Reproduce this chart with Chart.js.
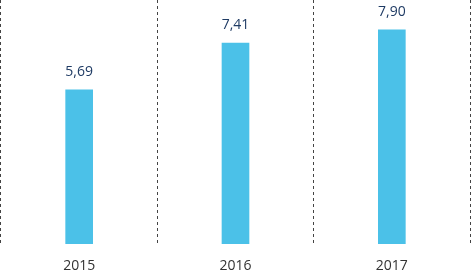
<!DOCTYPE html>
<html>
<head>
<meta charset="utf-8">
<script src="https://cdn.jsdelivr.net/npm/chart.js@4.4.1/dist/chart.umd.min.js"></script>
<style>
html,body{margin:0;padding:0;background:#fff;}
#wrap{width:471px;height:272px;}
</style>
</head>
<body>
<div id="wrap"><canvas id="c" width="471" height="272"></canvas></div>
<script>
const categories = ["2015", "2016", "2017"];
const values = [5.69, 7.41, 7.90];
const valueLabels = ["5,69", "7,41", "7,90"];

const labelPlugin = {
  id: 'valueLabels',
  afterDatasetsDraw(chart) {
    const ctx = chart.ctx;
    const meta = chart.getDatasetMeta(0);
    ctx.save();
    ctx.font = '14px "Open Sans"';
    ctx.fillStyle = '#1F3B64';
    ctx.textAlign = 'center';
    ctx.textBaseline = 'alphabetic';
    meta.data.forEach((bar, i) => {
      ctx.fillText(valueLabels[i], bar.x, bar.y - 14);
    });
    ctx.restore();
  }
};

new Chart(document.getElementById('c'), {
  type: 'bar',
  data: {
    labels: categories,
    datasets: [{
      data: values,
      backgroundColor: '#4BC1E8',
      barThickness: 27
    }]
  },
  options: {
    responsive: false,
    animation: false,
    layout: { padding: { left: 1, right: 1, top: 0, bottom: 0 } },
    plugins: { legend: { display: false }, tooltip: { enabled: false } },
    scales: {
      y: { display: false, min: 0, max: 9 },
      x: {
        afterFit(scale) { scale.height = 28; },
        grid: { offset: true, drawTicks: false, color: '#444', lineWidth: 1 },
        border: { display: false, dash: [3, 3] },
        ticks: { padding: 14, color: '#333', font: { family: '"Open Sans"', size: 14 } }
      }
    }
  },
  plugins: [labelPlugin]
});
</script>
</body>
</html>
